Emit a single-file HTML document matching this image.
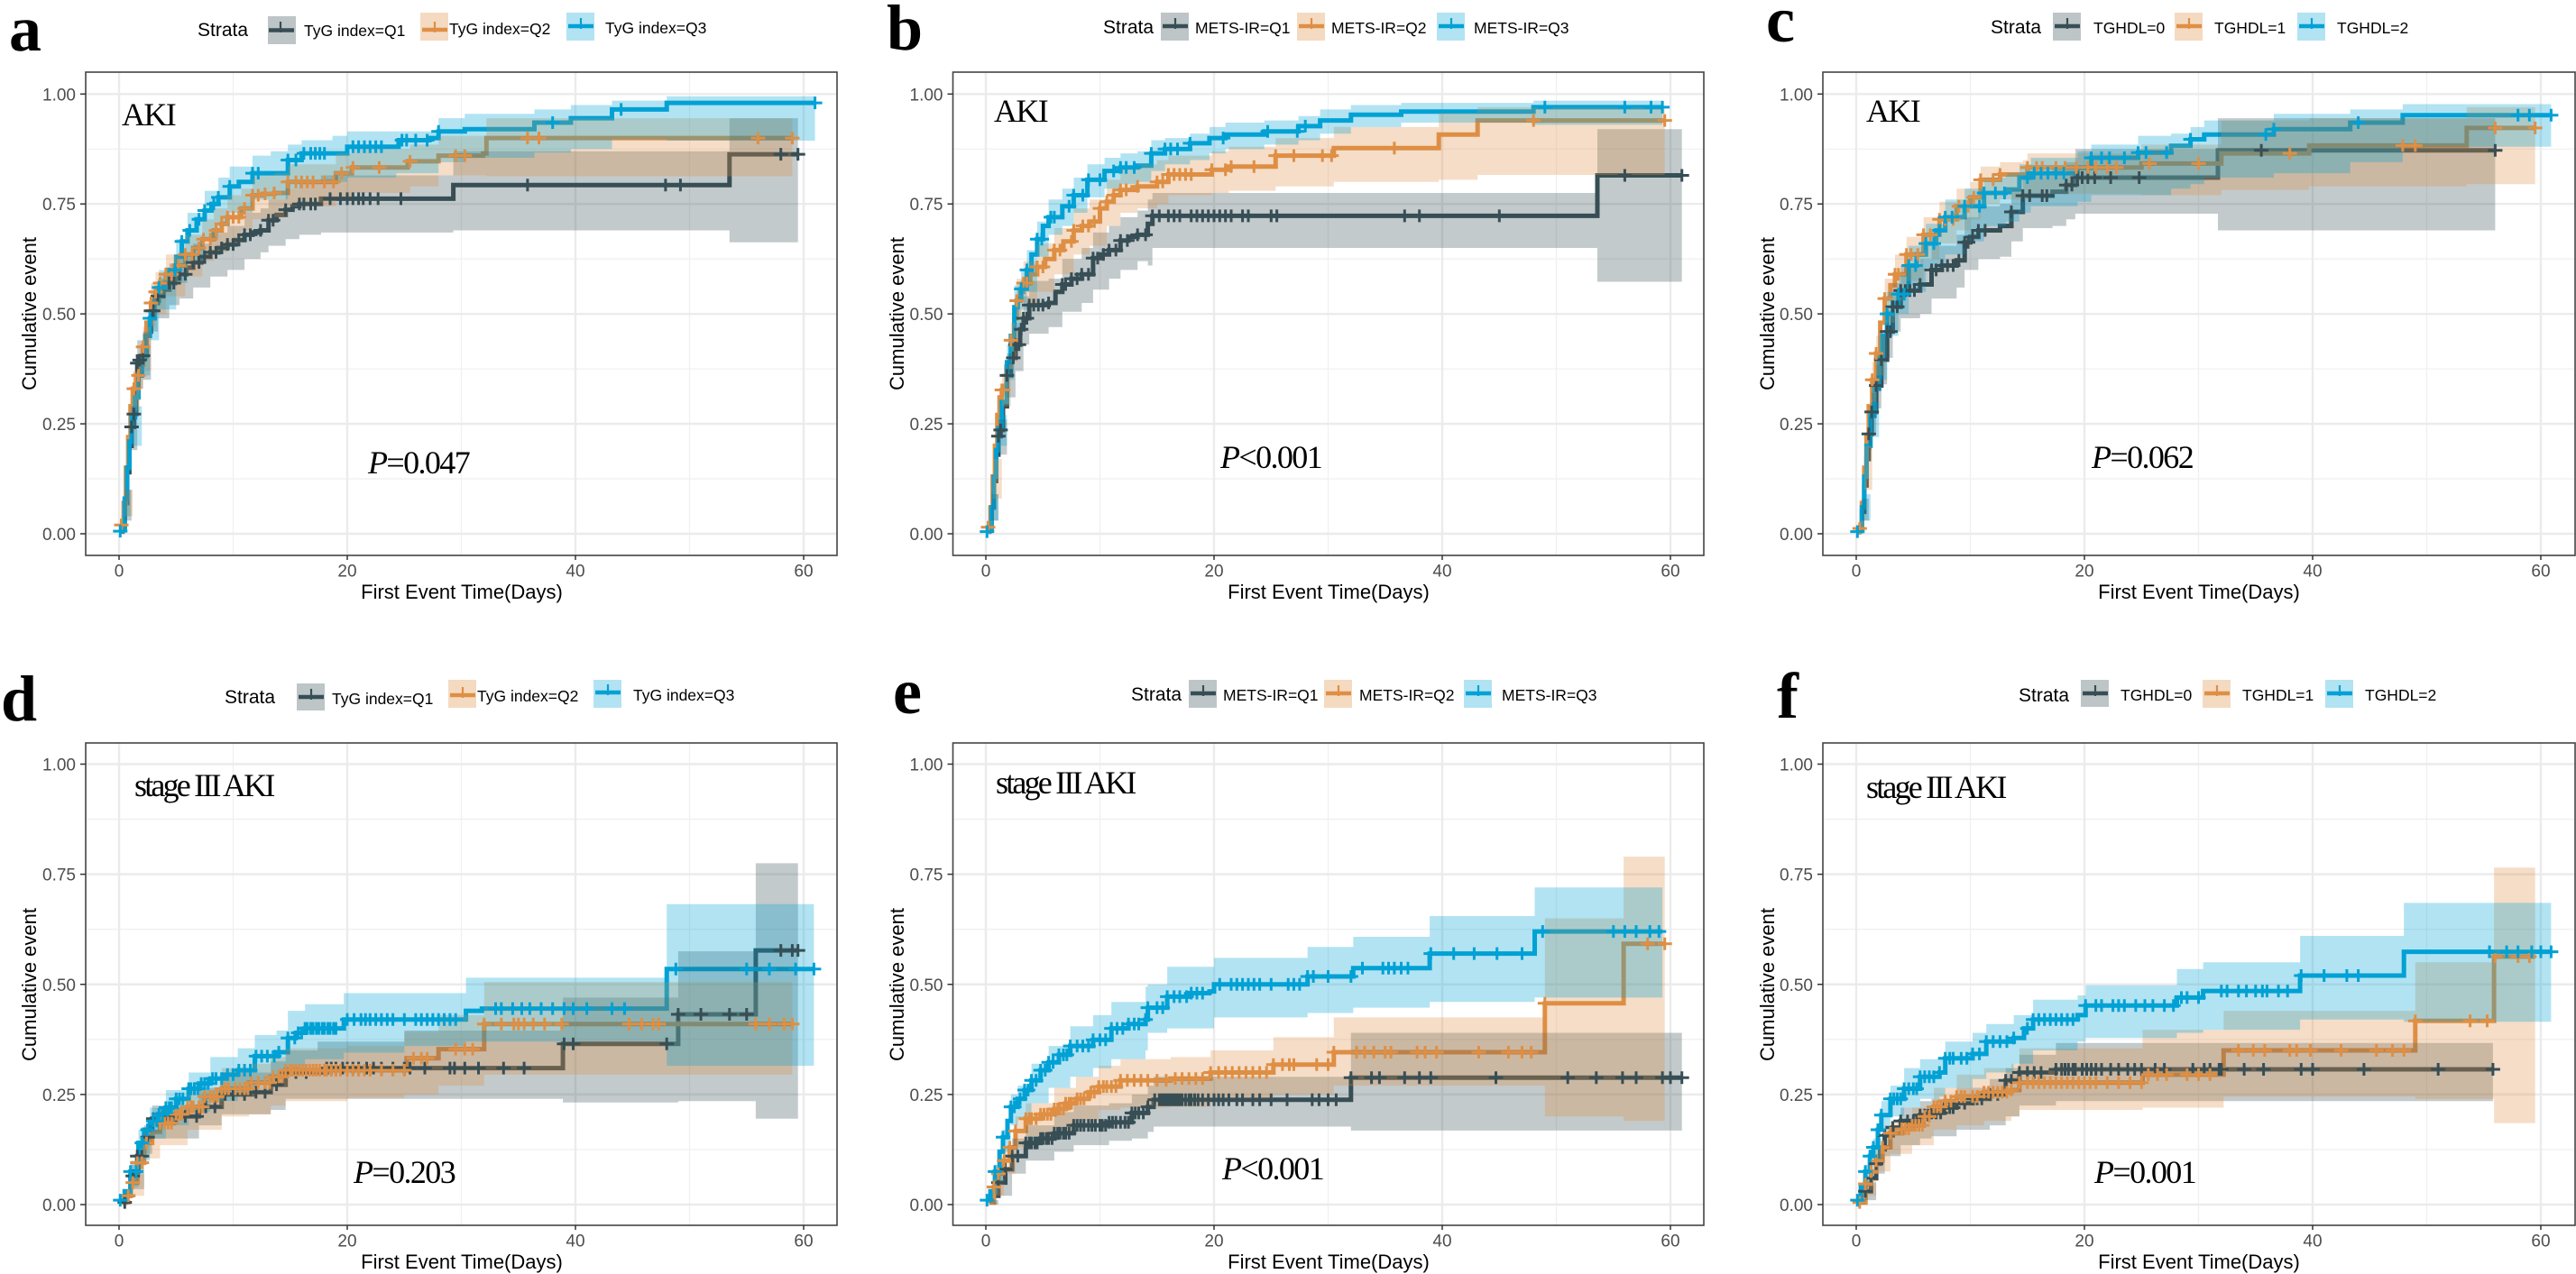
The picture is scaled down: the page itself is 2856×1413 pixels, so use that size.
<!DOCTYPE html>
<html lang="en">
<head>
<meta charset="utf-8">
<title>Cumulative event curves for AKI and stage III AKI</title>
<style>
html,body{margin:0;padding:0;background:#fff;}
svg{display:block;}
.letter{font-family:"Liberation Serif",serif;font-weight:700;font-size:72px;fill:#000;}
.strata{font-family:"Liberation Sans",sans-serif;font-size:21px;fill:#000;}
.leg{font-family:"Liberation Sans",sans-serif;font-size:17.5px;fill:#000;}
.axt{font-family:"Liberation Sans",sans-serif;font-size:22px;fill:#000;}
.tick{font-family:"Liberation Sans",sans-serif;font-size:19px;fill:#4d4d4d;}
.note{font-family:"Liberation Serif",serif;font-size:36px;fill:#000;letter-spacing:-1.6px;}
.note.long{letter-spacing:-2.8px;}
.pv{font-family:"Liberation Serif",serif;font-size:36px;fill:#000;letter-spacing:-1.6px;}
.pv tspan{font-style:italic;}
.k1{fill:#374E55;fill-opacity:.33;}.k2{fill:#DF8F44;fill-opacity:.33;}.k3{fill:#00A1D5;fill-opacity:.3;}
.l1{stroke:#374E55;}.l2{stroke:#DF8F44;}.l3{stroke:#00A1D5;}
.kl{fill:none;stroke-width:4.5;}.kp{fill:none;stroke-width:2.2;}
</style>
</head>
<body>
<svg id="fig" xmlns="http://www.w3.org/2000/svg" width="2856" height="1413" viewBox="0 0 2856 1413">
<rect width="2856" height="1413" fill="#fff"/>
<g id="plots"></g>

<!-- panel a -->
<g>
<text class="letter" x="10" y="56">a</text>
<text class="strata" x="219" y="40">Strata</text>
<rect class="k1" x="297" y="18" width="31" height="31"/><path class="kl l1" d="M298 33.5h28"/><path class="kp l1" d="M311 24v12"/>
<text class="leg" x="337" y="40">TyG index=Q1</text>
<rect class="k2" x="466" y="14" width="31" height="31"/><path class="kl l2" d="M468 33h28"/><path class="kp l2" d="M482 24v12"/>
<text class="leg" x="498" y="38">TyG index=Q2</text>
<rect class="k3" x="628" y="14" width="31" height="31"/><path class="kl l3" d="M630 29h28"/><path class="kp l3" d="M644 20v12"/>
<text class="leg" x="671" y="37">TyG index=Q3</text>
<text class="note" x="135" y="139">AKI</text>
<text class="pv" x="408" y="525"><tspan>P</tspan>=0.047</text>
<text class="axt" x="512" y="664" text-anchor="middle">First Event Time(Days)</text>
<text class="axt" transform="translate(40 348) rotate(-90)" text-anchor="middle">Cumulative event</text>
</g>

<!-- panel b -->
<g>
<text class="letter" x="983" y="55">b</text>
<text class="strata" x="1223" y="37">Strata</text>
<rect class="k1" x="1287" y="14" width="31" height="31"/><path class="kl l1" d="M1289 29h28"/><path class="kp l1" d="M1303 20v12"/>
<text class="leg" x="1325" y="37">METS-IR=Q1</text>
<rect class="k2" x="1438" y="14" width="31" height="31"/><path class="kl l2" d="M1440 29h28"/><path class="kp l2" d="M1454 20v12"/>
<text class="leg" x="1476" y="37">METS-IR=Q2</text>
<rect class="k3" x="1593" y="14" width="31" height="31"/><path class="kl l3" d="M1595 29h28"/><path class="kp l3" d="M1609 20v12"/>
<text class="leg" x="1634" y="37">METS-IR=Q3</text>
<text class="note" x="1102" y="135">AKI</text>
<text class="pv" x="1353" y="519"><tspan>P</tspan>&lt;0.001</text>
<text class="axt" x="1473" y="664" text-anchor="middle">First Event Time(Days)</text>
<text class="axt" transform="translate(1002 348) rotate(-90)" text-anchor="middle">Cumulative event</text>
</g>

<!-- panel c -->
<g>
<text class="letter" x="1958" y="46">c</text>
<text class="strata" x="2207" y="37">Strata</text>
<rect class="k1" x="2276" y="14" width="31" height="31"/><path class="kl l1" d="M2278 29h28"/><path class="kp l1" d="M2292 20v12"/>
<text class="leg" x="2321" y="37">TGHDL=0</text>
<rect class="k2" x="2411" y="14" width="31" height="31"/><path class="kl l2" d="M2413 29h28"/><path class="kp l2" d="M2427 20v12"/>
<text class="leg" x="2455" y="37">TGHDL=1</text>
<rect class="k3" x="2547" y="14" width="31" height="31"/><path class="kl l3" d="M2549 29h28"/><path class="kp l3" d="M2563 20v12"/>
<text class="leg" x="2591" y="37">TGHDL=2</text>
<text class="note" x="2069" y="135">AKI</text>
<text class="pv" x="2319" y="519"><tspan>P</tspan>=0.062</text>
<text class="axt" x="2438" y="664" text-anchor="middle">First Event Time(Days)</text>
<text class="axt" transform="translate(1967 348) rotate(-90)" text-anchor="middle">Cumulative event</text>
</g>

<!-- panel d -->
<g>
<text class="letter" x="1" y="799">d</text>
<text class="strata" x="249" y="780">Strata</text>
<rect class="k1" x="329" y="758" width="31" height="30"/><path class="kl l1" d="M331 773h28"/><path class="kp l1" d="M345 764v12"/>
<text class="leg" x="368" y="781">TyG index=Q1</text>
<rect class="k2" x="497" y="754" width="31" height="31"/><path class="kl l2" d="M499 771h28"/><path class="kp l2" d="M513 762v12"/>
<text class="leg" x="529" y="778">TyG index=Q2</text>
<rect class="k3" x="658" y="754" width="31" height="31"/><path class="kl l3" d="M660 768h28"/><path class="kp l3" d="M674 759v12"/>
<text class="leg" x="702" y="777">TyG index=Q3</text>
<text class="note long" x="149" y="883">stage III AKI</text>
<text class="pv" x="392" y="1312"><tspan>P</tspan>=0.203</text>
<text class="axt" x="512" y="1407" text-anchor="middle">First Event Time(Days)</text>
<text class="axt" transform="translate(40 1092) rotate(-90)" text-anchor="middle">Cumulative event</text>
</g>

<!-- panel e -->
<g>
<text class="letter" x="990" y="791">e</text>
<text class="strata" x="1254" y="777">Strata</text>
<rect class="k1" x="1318" y="754" width="31" height="31"/><path class="kl l1" d="M1320 769h28"/><path class="kp l1" d="M1334 760v12"/>
<text class="leg" x="1356" y="777">METS-IR=Q1</text>
<rect class="k2" x="1468" y="754" width="31" height="31"/><path class="kl l2" d="M1470 769h28"/><path class="kp l2" d="M1484 760v12"/>
<text class="leg" x="1507" y="777">METS-IR=Q2</text>
<rect class="k3" x="1623" y="754" width="31" height="31"/><path class="kl l3" d="M1625 769h28"/><path class="kp l3" d="M1639 760v12"/>
<text class="leg" x="1665" y="777">METS-IR=Q3</text>
<text class="note long" x="1104" y="880">stage III AKI</text>
<text class="pv" x="1355" y="1308"><tspan>P</tspan>&lt;0.001</text>
<text class="axt" x="1473" y="1407" text-anchor="middle">First Event Time(Days)</text>
<text class="axt" transform="translate(1002 1092) rotate(-90)" text-anchor="middle">Cumulative event</text>
</g>

<!-- panel f -->
<g>
<text class="letter" x="1970" y="796">f</text>
<text class="strata" x="2238" y="778">Strata</text>
<rect class="k1" x="2307" y="754" width="31" height="30"/><path class="kl l1" d="M2309 769h28"/><path class="kp l1" d="M2323 760v12"/>
<text class="leg" x="2351" y="777">TGHDL=0</text>
<rect class="k2" x="2442" y="754" width="31" height="31"/><path class="kl l2" d="M2444 769h28"/><path class="kp l2" d="M2458 760v12"/>
<text class="leg" x="2486" y="777">TGHDL=1</text>
<rect class="k3" x="2578" y="754" width="31" height="31"/><path class="kl l3" d="M2580 769h28"/><path class="kp l3" d="M2594 760v12"/>
<text class="leg" x="2622" y="777">TGHDL=2</text>
<text class="note long" x="2069" y="885">stage III AKI</text>
<text class="pv" x="2322" y="1312"><tspan>P</tspan>=0.001</text>
<text class="axt" x="2438" y="1407" text-anchor="middle">First Event Time(Days)</text>
<text class="axt" transform="translate(1967 1092) rotate(-90)" text-anchor="middle">Cumulative event</text>
</g>
</svg>

<script>
// Axis values
const xMajor=[0,20,40,60];
const xMinor=[10,30,50];
const yMajor=[0,0.25,0.5,0.75,1];
const yMinor=[0.125,0.375,0.625,0.875];
const yTickLabels=["0.00","0.25","0.50","0.75","1.00"];
const xTickLabels=["0","20","40","60"];

// Panel a: TyG index, AKI
const aQ1T=[.1,.3,.5,.7,.9,1.1,1.3,1.5,1.6,1.8,2.1,2.4,2.8,3.1,3.4,3.9,4.4,4.9,5.3,5.9,6.5,7.2,8,8.7,9.5,10.2,11,11.7,12.4,13.1,13.8,14.6,15.2,15.8,17.7,29.3,53.5,59.5];
const aQ1Y=[.005,.01,.07,.14,.2,.243,.272,.33,.388,.395,.405,.46,.507,.525,.54,.555,.57,.58,.59,.605,.617,.63,.64,.65,.658,.668,.68,.685,.69,.713,.725,.737,.745,.75,.762,.793,.863,.863];
const aQ1BandT=[.1,.5,1.1,1.6,2.1,2.8,3.4,4.4,5.3,6.5,8,9.5,11,12.4,13.1,14.6,15.8,17.7,29.3,53.5,59.5];
const aQ1Lo=[0,.03,.19,.33,.35,.46,.49,.52,.535,.56,.585,.60,.625,.64,.655,.67,.68,.685,.69,.663,.663];
const aQ1Hi=[.01,.1,.29,.44,.46,.55,.58,.615,.635,.66,.685,.70,.73,.74,.76,.785,.80,.815,.87,.945,.945];
const aQ1C=[1.1,1.3,1.6,1.8,2.1,2.8,3,3.4,4.4,4.8,5.3,5.8,6.5,7,7.5,8,8.5,9,9.5,10,10.5,11,11.5,12.4,13.1,13.5,14.6,15.8,16.2,16.8,17.2,18.5,19.4,20,20.5,21,21.4,22,22.7,24.7,35.8,47.9,49.2,58,59.5];
const aQ2T=[.2,.4,.6,.8,1,1.2,1.5,1.8,2.1,2.4,2.8,3.2,3.6,4.1,4.9,5.8,6.5,7.3,8.3,9,9.5,10.7,11.7,12.6,13.6,14.8,18,19,20.4,25.3,28,31.9,32.2,59];
const aQ2Y=[.02,.07,.15,.22,.29,.33,.36,.385,.425,.48,.525,.55,.57,.59,.61,.635,.65,.67,.69,.705,.72,.74,.77,.773,.775,.80,.80,.82,.833,.847,.86,.865,.90,.90];
const aQ2BandT=[.1,.5,1.2,1.8,2.1,2.8,3.2,4.1,5.8,7.3,8.3,9.5,10.7,11.7,13.6,14.8,19,20.4,25.5,28,32.2,59];
const aQ2Lo=[0,.04,.28,.33,.37,.47,.50,.54,.585,.62,.64,.66,.69,.715,.72,.745,.765,.775,.79,.815,.813,.813];
const aQ2Hi=[.02,.1,.37,.43,.47,.57,.595,.635,.68,.715,.74,.77,.785,.815,.82,.84,.865,.875,.885,.905,.945,.945];
const aQ2C=[.2,1.3,1.7,2.1,2.8,3.2,3.6,4.1,4.6,5.2,5.8,6.4,7,7.4,8,8.5,9,9.5,10,10.5,11,11.7,12.2,12.8,13.6,14.8,15.5,16,16.5,17,18,18.8,19.5,20.5,22.8,25.5,29.5,30.3,35.8,36.8,56,59];
const aQ3T=[.1,.3,.5,.7,.9,1.1,1.4,1.7,2,2.3,2.7,3.1,3.5,4.2,5,5.5,6,6.8,7.5,8.1,8.7,9.7,10.5,11.7,13.3,14.8,16,18.7,20,24.5,27.2,28,30.3,36.4,39.6,43.2,48,61];
const aQ3Y=[.006,.01,.08,.15,.21,.265,.31,.36,.40,.45,.49,.53,.56,.60,.63,.665,.69,.715,.735,.75,.765,.79,.80,.82,.82,.85,.865,.865,.88,.895,.90,.915,.92,.935,.945,.965,.98,.98];
const aQ3BandT=[.1,.5,1,2,2.7,3.5,5,6,7.5,8.7,9.7,11.7,13.3,14.8,16,18.7,20,24.3,28,30.3,36.4,39.6,43.2,48,61];
const aQ3Lo=[0,.04,.2,.36,.44,.51,.57,.62,.67,.70,.73,.76,.76,.785,.80,.80,.81,.82,.845,.855,.867,.875,.897,.894,.894];
const aQ3Hi=[.02,.1,.29,.43,.53,.60,.67,.73,.78,.81,.835,.86,.87,.885,.895,.905,.915,.915,.945,.955,.965,.975,.985,.995,.995];
const aQ3C=[.1,2.7,3.5,4.9,5.5,6.2,7,7.5,8.3,8.7,9.7,11.7,12.2,14.8,15.5,16.2,16.8,17.2,17.6,18,20.5,21,21.5,22,22.5,23,24.8,25.2,26,27,28,38,44,61];

// Panel b: METS-IR, AKI
const bQ1T=[.1,.3,.5,.7,.9,1.1,1.3,1.5,1.85,2.2,2.6,3,3.3,3.8,5.5,6.1,6.7,7.5,8.4,9.4,10,10.8,11.8,12.5,13.3,14.2,14.6,53.6,61];
const bQ1Y=[.005,.01,.06,.12,.18,.222,.236,.29,.36,.40,.43,.465,.49,.52,.525,.55,.567,.58,.59,.627,.635,.645,.667,.675,.68,.705,.723,.815,.815];
const bQ1BandT=[.1,.5,1.1,1.85,2.6,3.3,3.8,5.5,6.7,8.4,9.4,10.8,11.8,13.3,14.2,14.6,53.6,61];
const bQ1Lo=[0,.03,.18,.31,.37,.43,.455,.47,.505,.525,.555,.58,.60,.62,.61,.65,.573,.573];
const bQ1Hi=[.01,.09,.26,.41,.48,.54,.575,.58,.625,.65,.685,.70,.72,.735,.76,.775,.92,.92];
const bQ1C=[1.1,1.3,1.85,2.4,2.6,2.9,3.1,3.3,3.6,3.8,4.2,4.6,5,5.5,6.7,7,7.5,8,8.4,9,9.4,9.8,10.3,10.8,11.4,11.8,12.4,13.3,14,14.6,15.2,16,16.5,17,18,18.5,19,19.5,20,20.5,21,21.5,22.5,23,25,25.5,36.7,38,45,56,61];
const bQ2T=[.2,.4,.6,.8,1,1.2,1.4,1.8,2.2,2.5,2.7,3,3.3,3.9,4.5,5.2,6,6.8,7.7,8.4,9.1,10,10.6,11.2,11.8,13.3,15,16,19,19.8,21.3,24.4,25.4,30.3,30.5,39.7,43.1,59.5];
const bQ2Y=[.015,.06,.13,.2,.27,.31,.327,.38,.44,.49,.53,.55,.57,.59,.607,.625,.645,.665,.69,.70,.71,.74,.755,.77,.782,.79,.80,.817,.817,.828,.835,.835,.86,.86,.877,.908,.94,.94];
const bQ2BandT=[.2,.6,1.4,2.2,2.7,3.3,4.5,6,7.7,9.1,10.6,11.8,13.3,15,16,19.8,21.3,25.4,30.5,39.7,43.1,59.5];
const bQ2Lo=[0,.08,.29,.39,.48,.52,.55,.59,.635,.655,.70,.73,.74,.75,.77,.775,.78,.79,.80,.805,.816,.816];
const bQ2Hi=[.03,.17,.365,.48,.58,.62,.66,.695,.74,.76,.805,.83,.84,.85,.86,.87,.88,.90,.925,.957,.97,.97];
const bQ2C=[.2,1.4,1.5,2.2,2.7,3.3,3.6,4.5,5,6,6.5,7.5,7.7,8.5,9,9.5,10,10.6,11.2,11.8,12.3,13.3,15,15.5,16,16.5,17,17.5,18,19.8,21,21.5,23.5,25.4,27,29.5,30.3,35.8,48,59.5];
const bQ3T=[.1,.3,.5,.7,.9,1.1,1.4,1.85,2.2,2.5,2.8,3.1,3.6,4,4.5,5,5.5,6.7,7.7,8.9,10.4,11.8,13.3,14.5,15.7,17.9,19.6,21,24.4,27.4,29.3,32,36.4,48,59.3];
const bQ3Y=[.005,.01,.06,.13,.19,.24,.30,.39,.45,.515,.535,.557,.60,.635,.67,.70,.72,.745,.77,.805,.825,.833,.837,.865,.875,.888,.90,.908,.915,.927,.94,.953,.96,.97,.97];
const bQ3BandT=[.1,.5,1.1,1.85,2.5,3.1,3.6,4.5,5.5,6.7,7.7,8.9,10.4,11.8,13.3,14.5,15.7,17.9,19.6,21,24.4,27.4,29.3,32,36.4,48,59.3];
const bQ3Lo=[0,.03,.2,.35,.46,.51,.55,.63,.68,.70,.73,.765,.785,.795,.80,.825,.84,.85,.865,.875,.885,.895,.91,.925,.935,.93,.93];
const bQ3Hi=[.02,.09,.27,.43,.565,.60,.645,.71,.76,.785,.81,.84,.855,.865,.87,.895,.90,.91,.925,.935,.94,.95,.965,.975,.98,.985,.985];
const bQ3C=[.1,3.1,3.6,4.5,4.9,5.7,6,7.3,7.7,8.5,9,10,11.2,11.8,12.3,13,14.5,15.7,16.2,16.8,17.9,20.8,24.7,27.3,28,49,56,58.3,59.3];

// Panel c: TGHDL, AKI
const cQ1T=[.1,.3,.5,.7,.9,1.1,1.35,1.75,2.2,2.7,3.2,3.9,5.6,6.6,7.5,8.8,9.5,10,10.7,12.6,13.6,14.6,17.2,18.4,19.2,31.7,56];
const cQ1Y=[.005,.01,.05,.11,.17,.227,.277,.337,.396,.46,.516,.553,.567,.60,.61,.622,.663,.675,.69,.70,.732,.769,.778,.793,.81,.872,.872];
const cQ1BandT=[.1,.5,1.1,1.35,1.75,2.2,2.7,3.2,3.9,5.6,6.6,8.8,9.5,10.7,12.6,13.6,14.6,17.2,18.4,19.2,31.7,56];
const cQ1Lo=[0,.03,.19,.23,.285,.34,.40,.46,.49,.50,.535,.56,.60,.625,.63,.665,.695,.70,.715,.728,.69,.69];
const cQ1Hi=[.01,.08,.265,.32,.385,.45,.51,.57,.61,.625,.655,.68,.72,.745,.75,.785,.815,.83,.845,.875,.945,.945];
const cQ1C=[1.1,1.35,1.75,2.2,2.7,3,3.2,3.6,3.9,4.3,4.7,5.1,5.6,6.6,7,7.5,8,8.5,9,9.5,9.8,10.2,10.7,11.3,13.6,14.6,15.2,16.3,16.7,18.4,18.9,19.4,19.8,20.3,20.9,22.3,24.8,35.5,56];
const cQ2T=[.3,.5,.7,.9,1.1,1.4,1.75,2.1,2.5,3,3.4,4.4,5.9,7.3,8.8,10,10.9,12.6,15,24.7,25,32,39.7,53.5,59.5];
const cQ2Y=[.012,.07,.15,.22,.29,.35,.41,.48,.535,.565,.59,.635,.68,.715,.745,.765,.805,.817,.833,.833,.842,.865,.883,.923,.923];
const cQ2BandT=[.3,.7,1.4,1.75,2.5,3.4,4.4,5.9,7.3,8.8,10,10.9,12.6,14.6,15,25,32,39.7,53.5,59.5];
const cQ2Lo=[0,.1,.30,.36,.48,.53,.575,.625,.66,.69,.715,.75,.76,.76,.773,.77,.782,.79,.795,.795];
const cQ2Hi=[.03,.2,.39,.45,.58,.635,.675,.72,.755,.785,.80,.835,.845,.85,.865,.885,.94,.945,.97,.97];
const cQ2C=[.3,1.4,1.75,2.5,3.4,3.7,4.4,4.8,5.4,5.9,6.5,7.3,7.8,8.5,9,9.8,10.3,10.9,12,12.6,15,15.8,16.3,17.5,18.3,19.3,20.3,21,22,22.8,25.7,30,38,47.9,49,56,59.5];
const cQ3T=[.1,.3,.5,.7,.9,1.25,1.6,2,2.3,2.7,3.2,3.7,4.6,5.3,6.1,7,7.8,9.5,11.2,13.1,14.3,15.3,18.4,19.4,20.6,24.7,27.6,29.3,30.5,36.6,43.3,47.9,60.9];
const cQ3Y=[.005,.01,.06,.13,.2,.268,.33,.40,.45,.50,.525,.545,.61,.635,.66,.69,.72,.745,.775,.783,.81,.82,.82,.832,.855,.867,.882,.897,.908,.92,.935,.952,.952];
const cQ3BandT=[.1,.5,1.25,2,2.7,3.7,4.6,6.1,7.8,9.5,11.2,13.1,14.3,15.3,19.4,20.6,24.7,27.6,29.3,30.5,36.6,43.3,47.9,60.9];
const cQ3Lo=[0,.03,.22,.35,.45,.50,.55,.605,.635,.665,.70,.71,.73,.745,.755,.77,.77,.785,.795,.81,.82,.845,.88,.88];
const cQ3Hi=[.02,.09,.30,.45,.55,.59,.655,.705,.76,.785,.81,.82,.84,.855,.87,.885,.905,.91,.925,.94,.955,.965,.977,.977];
const cQ3C=[.1,2.7,3.7,4.2,4.6,5.2,6.1,6.8,7.3,7.8,8.4,9.5,10.8,11.2,12.2,13,15,15.6,16.2,16.8,17.5,18.2,20.6,21.5,22.2,23.5,24.7,25.4,27.2,29.3,35.9,36.6,44,58,59,60.9];

// Panel d: TyG index, stage III AKI
const dQ1T=[.3,.6,1,1.6,2.2,2.9,4.5,7,9,11.9,13.3,14.6,18.2,38.9,49,55.8,59.5];
const dQ1Y=[.005,.02,.065,.11,.153,.195,.20,.222,.25,.255,.272,.30,.31,.365,.432,.577,.577];
const dQ1BandT=[.3,1,2.2,2.9,7,9,11.9,13.3,14.6,17.4,25,38.9,49,55.8,59.5];
const dQ1Lo=[0,.035,.115,.15,.18,.205,.205,.215,.24,.24,.24,.232,.235,.195,.195];
const dQ1Hi=[.01,.09,.18,.225,.265,.30,.30,.325,.35,.37,.395,.47,.575,.775,.775];
const dQ1C=[.5,.8,1.2,1.6,2,2.5,3,3.5,4,5,5.8,6.8,7.6,8.4,9.3,10,11,12,12.8,13.8,14.6,15.5,16.4,18.2,18.6,19,19.6,20,20.5,21,21.7,22.3,23,24,25,25.5,26.8,29,29.4,30.3,31.5,33.7,35.5,39,39.8,48,49,51,53.5,55,58,59,59.5];
const dQ2T=[.3,.6,1,1.6,2.2,2.9,3.6,4.8,6,7.5,9,11.4,13.3,14.6,25,25.2,27.9,28,31.8,32,59];
const dQ2Y=[.005,.02,.05,.095,.14,.165,.185,.205,.222,.245,.263,.277,.29,.305,.305,.332,.332,.353,.353,.41,.41];
const dQ2BandT=[.3,1,2.2,3.6,6,9,11.4,13.3,14.6,20,25,28,32,59];
const dQ2Lo=[0,.02,.105,.135,.17,.20,.205,.225,.235,.242,.25,.27,.295,.295];
const dQ2Hi=[.01,.07,.165,.22,.26,.31,.32,.335,.355,.36,.392,.43,.505,.505];
const dQ2C=[.8,1.2,1.6,2,2.4,3.6,4,4.3,4.6,5,5.3,5.5,6,6.3,6.5,7,7.3,7.5,8,8.3,8.6,9,9.3,9.6,10.2,10.6,11,11.3,11.6,12.2,12.8,13.2,13.5,14,14.3,14.6,15,15.2,15.5,15.8,16.1,16.4,16.7,17,17.3,17.6,18,18.2,18.6,19,19.4,20,20.5,21,21.5,22,23,24,25,25.8,26.5,27,29.5,30.3,31,32,33.5,34.6,35,35.5,36.3,37.3,38.8,44.7,45.8,46.8,47.3,55.8,57,58.3,59];
const dQ3T=[.1,.5,1,1.7,2.2,2.7,3.4,4.1,5,6.1,7,8,9.2,10.4,11.9,13.8,14.8,15.5,16.3,19.4,19.7,30.3,30.4,31.8,47.8,48,60.9];
const dQ3Y=[.01,.03,.075,.14,.17,.19,.205,.22,.24,.263,.275,.286,.295,.305,.337,.346,.378,.39,.40,.40,.42,.42,.44,.445,.445,.535,.535];
const dQ3BandT=[.1,1,1.7,2.7,4.1,6.1,8,10.4,11.9,13.8,14.8,16.3,19.7,25,30.4,48,60.9];
const dQ3Lo=[.01,.04,.10,.15,.18,.21,.235,.25,.275,.285,.31,.33,.345,.36,.37,.315,.315];
const dQ3Hi=[.01,.10,.17,.22,.26,.30,.335,.355,.385,.395,.44,.455,.48,.48,.515,.682,.682];
const dQ3C=[.1,1,1.5,2,2.5,3,3.3,3.5,3.8,4.1,4.4,4.6,5,5.3,5.6,6.1,6.3,6.6,6.9,7.2,7.5,7.8,8.2,8.5,9,9.5,10,10.5,11,11.5,12,12.5,13,13.6,14,14.8,15.4,15.7,16,16.3,16.5,16.8,17,17.3,17.5,17.8,18,18.3,18.5,18.8,19,20,20.6,21.2,21.6,22,22.5,23,23.5,24,25,26,26.5,27,27.5,28,28.5,29,29.5,33,33.5,34.5,35.3,36,37,38,39,39.8,41,43.2,44.3,48.8,55,57,59.3,60.9];

// Panel e: METS-IR, stage III AKI
const eQ1T=[.3,.7,1.1,1.7,2.3,3.5,4.8,6,7.7,10.8,12.8,14.2,14.7,32,61];
const eQ1Y=[.005,.02,.05,.08,.11,.14,.15,.162,.18,.187,.208,.222,.238,.288,.288];
const eQ1BandT=[.3,1.1,2.3,3.5,6,7.7,10.8,12.8,14.2,14.7,32,61];
const eQ1Lo=[0,.02,.07,.10,.12,.135,.145,.15,.165,.177,.168,.168];
const eQ1Hi=[.01,.08,.15,.18,.21,.225,.23,.25,.27,.29,.39,.39];
const eQ1C=[1.1,1.7,2.3,2.8,3.5,3.8,4,4.3,4.5,4.8,5,5.3,5.5,5.8,6,6.3,6.5,6.8,7,7.3,7.7,8,8.3,8.6,9,9.3,9.6,10,10.2,10.5,10.8,11.1,11.4,11.8,12.2,12.5,12.8,13.1,13.4,13.8,14.2,14.8,15.2,15.4,15.6,15.8,16,16.2,16.4,16.6,16.8,17,17.2,17.5,17.8,18,18.3,18.6,19,19.5,20,20.4,20.8,21.3,22,22.5,23.4,24,25,26.4,28.6,29.2,30,30.7,32,33.8,34.5,36.7,38,39,44.7,51,53.5,55.8,57,59.3,60,61];
const eQ2T=[.3,.7,1.1,1.6,2.1,2.6,3.5,4.8,6,7,7.9,9,9.9,11.8,16.2,19,19.7,25.2,30.3,30.5,49,55.9,59.5];
const eQ2Y=[.005,.04,.07,.10,.13,.167,.195,.205,.217,.23,.24,.255,.268,.282,.286,.286,.30,.318,.318,.346,.457,.592,.592];
const eQ2BandT=[.3,.7,1.6,2.6,3.5,6,7.9,9.9,11.8,16.2,19.7,25.2,30.5,49,55.9,59.5];
const eQ2Lo=[0,.02,.07,.13,.155,.17,.19,.215,.22,.222,.24,.25,.27,.20,.19,.19];
const eQ2Hi=[.01,.06,.13,.20,.23,.265,.29,.315,.33,.335,.35,.38,.425,.65,.79,.79];
const eQ2C=[.7,1.1,1.6,2.1,2.6,3.5,3.8,4,4.4,4.8,5.1,5.4,5.7,6,6.3,6.5,6.8,7,7.3,7.5,8,8.3,8.6,9.2,9.5,9.9,10.3,10.6,11,11.4,11.8,12.4,13,13.6,14.2,15,15.8,16.6,17.2,17.8,18.4,19,19.7,20.4,21,21.6,22.2,22.8,23.4,24,24.6,25.2,26,26.6,27,29,30,30.5,32.5,33.2,34,35,35.5,37.8,38.5,39.5,43.2,45.8,47,47.8,49,58,59.5];
const eQ3T=[.1,.4,.8,1.2,1.5,1.9,2.2,2.8,3.4,4,4.8,5.5,6.4,7.4,9.4,11,12.5,14,14.2,15.9,17.8,19.6,20,28,28.2,32,32.2,38.8,38.9,48,48.1,59.3];
const eQ3Y=[.01,.03,.075,.12,.153,.19,.222,.24,.26,.282,.305,.323,.34,.36,.374,.40,.41,.42,.447,.472,.48,.484,.50,.50,.518,.518,.537,.537,.57,.57,.62,.62];
const eQ3BandT=[.1,.8,1.5,2.2,2.8,4,5.5,7.4,9.4,11,14,14.2,15.9,20,28.2,32.2,38.9,48.1,59.3];
const eQ3Lo=[.01,.05,.12,.18,.195,.23,.265,.29,.31,.33,.35,.39,.40,.425,.435,.447,.46,.47,.47];
const eQ3Hi=[.01,.09,.17,.25,.27,.32,.36,.405,.43,.46,.495,.50,.54,.56,.585,.608,.655,.72,.72];
const eQ3C=[.1,.8,1.5,2.2,2.5,3,3.4,3.7,4,4.4,4.8,5.2,5.5,5.9,6.4,6.8,7.1,7.4,8,8.5,9,9.4,10,10.5,11,11.5,12,12.5,13,13.4,14,14.2,15,15.5,15.9,16.5,17,17.6,18,18.5,19,20.5,21.5,22,22.5,23,23.5,24,25,26.5,27,27.5,28.2,28.7,30,32,33,34.8,35.3,35.8,36.4,37,39,41,42.8,44.8,47,48.8,55,56,57,58.2,59];

// Panel f: TGHDL, stage III AKI
const fQ1T=[.4,.8,1.3,1.75,2.1,2.5,3.2,3.9,5.6,6.6,7.7,8.8,10.2,11.7,13.1,14.3,17.5,55.8];
const fQ1Y=[.005,.03,.06,.093,.125,.157,.175,.19,.203,.208,.22,.23,.24,.25,.282,.30,.307,.307];
const fQ1BandT=[.4,.8,1.75,2.5,3.9,5.6,6.6,8.8,11.7,13.1,14.3,17.5,55.8];
const fQ1Lo=[0,.01,.07,.11,.135,.15,.155,.17,.18,.20,.225,.235,.235];
const fQ1Hi=[.01,.05,.115,.18,.22,.235,.24,.265,.285,.31,.34,.367,.367];
const fQ1C=[.8,1.3,1.75,2.5,3.2,3.9,4.5,5,5.3,5.6,6,6.3,6.6,7,7.4,7.7,8.2,8.5,8.8,9.5,10.2,10.6,11,11.7,12.4,13.1,13.6,14.3,15,15.6,16.2,17.5,18,18.3,18.6,19,19.2,19.8,20.2,20.6,21,21.5,22.3,23,23.8,24.4,25,26.2,27,29.5,30.5,31,31.8,32,34,35.7,39,40,44.5,51,55.8];
const fQ2T=[.3,.8,1.3,1.75,2.3,3,4,4.9,5.9,6.8,7.8,8.8,11.2,13.6,14.3,25,25.1,32,32.2,49,55.9,59.5];
const fQ2Y=[.005,.047,.075,.10,.13,.162,.172,.18,.20,.222,.235,.245,.255,.26,.277,.277,.295,.295,.35,.417,.563,.563];
const fQ2BandT=[.3,.8,1.75,3,4.9,6.8,8.8,11.2,13.6,14.3,25.1,32.2,49,55.9,59.5];
const fQ2Lo=[0,.02,.075,.115,.135,.17,.18,.19,.20,.215,.22,.245,.24,.185,.185];
const fQ2Hi=[.01,.06,.125,.19,.22,.265,.295,.31,.32,.355,.397,.44,.55,.765,.765];
const fQ2C=[.3,.8,1.3,1.75,2.3,3,4,4.3,4.6,4.9,5.2,5.5,5.8,6,6.4,6.8,7.1,7.4,7.8,8.3,8.8,9.2,9.5,10.2,10.6,11.2,11.6,12,12.4,12.8,13.2,13.6,14.3,15,15.5,16,16.5,17,17.5,18,18.5,19,19.5,20,20.5,21,22,23,24,25,25.6,26.4,27.2,29,30,31,33.5,34.8,35.8,38,38.6,39.8,42.5,45.6,47,48,49,53.8,55.3,56,58,59];
const fQ3T=[.1,.4,.8,1.2,1.5,1.9,2.2,3,4.2,5.6,7.3,7.8,10.2,11.4,13.8,14.7,15.5,19.4,20.1,27.6,28.1,30.3,30.4,38.8,38.9,47.9,48,60.9];
const fQ3Y=[.01,.04,.075,.11,.13,.17,.203,.24,.263,.29,.30,.332,.342,.37,.378,.40,.42,.43,.452,.452,.47,.47,.485,.485,.52,.52,.574,.574];
const fQ3BandT=[.1,.8,1.5,2.2,3,4.2,5.6,7.3,7.8,10.2,11.4,13.8,15.5,19.4,20.1,28.1,30.4,38.9,48,60.9];
const fQ3Lo=[.01,.05,.09,.17,.20,.22,.24,.245,.265,.285,.30,.32,.35,.37,.378,.39,.397,.42,.415,.415];
const fQ3Hi=[.01,.09,.15,.235,.27,.31,.33,.335,.37,.39,.41,.43,.465,.475,.498,.535,.55,.61,.685,.685];
const fQ3C=[.1,.8,1.2,1.5,1.9,2.2,3,3.3,3.6,3.9,4.2,4.6,5,5.3,5.6,6,6.4,6.8,7.3,7.8,8.2,8.5,9.2,9.7,10.2,10.8,11.4,12,12.6,13.2,13.8,15,15.5,16,16.5,17,17.5,18,18.5,19,20.1,21,21.5,22.5,23,23.5,24.5,25.3,26,27,27.8,28.5,29,30,32,32.5,33.5,34.2,35,35.6,36,37,37.8,39,41,43,44,55.5,57,58,59.2,60,60.9];

const fills=["#374E55","#DF8F44","#00A1D5"];
const svgNS="http://www.w3.org/2000/svg";
const plotLayer=document.getElementById("plots");

function mk(tag,parent){const el=document.createElementNS(svgNS,tag);parent.appendChild(el);return el;}
function stepAt(T,Y,t){let v=Y[0];for(let i=0;i<T.length;i++){if(T[i]<=t)v=Y[i];else break;}return v;}
function stepPath(T,Y,sx,sy){let d="M"+sx(T[0]).toFixed(1)+" "+sy(Y[0]).toFixed(1);for(let i=1;i<T.length;i++){d+="H"+sx(T[i]).toFixed(1)+"V"+sy(Y[i]).toFixed(1);}return d;}
function bandPath(T,Lo,Hi,sx,sy){
  const n=T.length-1;
  let d=stepPath(T,Hi,sx,sy);
  d+="V"+sy(Lo[n]).toFixed(1);
  for(let i=n-1;i>=0;i--){d+="H"+sx(T[i+1]).toFixed(1)+"V"+sy(Lo[i]).toFixed(1)+"H"+sx(T[i]).toFixed(1);}
  return d+"Z";
}

function drawPanel(id,g,series){
  const sx=t=>g.x0+(g.x60-g.x0)*t/60;
  const sy=v=>g.y0+(g.y1-g.y0)*v;
  const root=mk("g",plotLayer);
  
  
  xMinor.forEach(v=>{
    const l=mk("line",root);
    l.setAttribute("x1",sx(v));l.setAttribute("x2",sx(v));l.setAttribute("y1",g.t);l.setAttribute("y2",g.b);
    l.setAttribute("stroke","#f0f0f0");l.setAttribute("stroke-width","1.3");
    
    
  });
  yMinor.forEach(v=>{
    const l=mk("line",root);
    l.setAttribute("x1",g.l);l.setAttribute("x2",g.r);l.setAttribute("y1",sy(v));l.setAttribute("y2",sy(v));
    l.setAttribute("stroke","#f0f0f0");l.setAttribute("stroke-width","1.3");
    
    
  });
  xMajor.forEach(v=>{
    const l=mk("line",root);
    l.setAttribute("x1",sx(v));l.setAttribute("x2",sx(v));l.setAttribute("y1",g.t);l.setAttribute("y2",g.b);
    l.setAttribute("stroke","#ebebeb");l.setAttribute("stroke-width","2.4");
    
    
  });
  yMajor.forEach(v=>{
    const l=mk("line",root);
    l.setAttribute("x1",g.l);l.setAttribute("x2",g.r);l.setAttribute("y1",sy(v));l.setAttribute("y2",sy(v));
    l.setAttribute("stroke","#ebebeb");l.setAttribute("stroke-width","2.4");
    
    
  });
  series.forEach((s,i)=>{
    const p=mk("path",root);
    p.setAttribute("d",stepPath(s.t,s.y,sx,sy));
    p.setAttribute("fill","none");p.setAttribute("stroke",fills[i]);p.setAttribute("stroke-width","5");
    
    
  });
  series.forEach((s,i)=>{
    const p=mk("path",root);
    p.setAttribute("d",bandPath(s.bt,s.lo,s.hi,sx,sy));
    p.setAttribute("fill",fills[i]);p.setAttribute("fill-opacity","0.3");
    
    
  });
  series.forEach((s,i)=>{
    s.c.forEach(c=>{
      const cx=sx(c),cy=sy(stepAt(s.t,s.y,c));
      const m=mk("path",root);
      m.setAttribute("d","M"+(cx-8).toFixed(1)+" "+cy.toFixed(1)+"h16M"+cx.toFixed(1)+" "+(cy-7).toFixed(1)+"v14");
      m.setAttribute("fill","none");m.setAttribute("stroke",fills[i]);m.setAttribute("stroke-width","3");
      
      
    });
  });
  const frame=mk("rect",root);
  frame.setAttribute("x",g.l);frame.setAttribute("y",g.t);frame.setAttribute("width",g.r-g.l);frame.setAttribute("height",g.b-g.t);
  frame.setAttribute("fill","none");frame.setAttribute("stroke","#444");frame.setAttribute("stroke-width","1.6");
  
  
  xMajor.forEach((v,i)=>{
    const l=mk("line",root);
    l.setAttribute("x1",sx(v));l.setAttribute("x2",sx(v));l.setAttribute("y1",g.b);l.setAttribute("y2",g.b+5);
    l.setAttribute("stroke","#333");l.setAttribute("stroke-width","1.5");
    
    
    const t=mk("text",root);
    t.setAttribute("class","tick");t.setAttribute("x",sx(v));t.setAttribute("y",g.b+23.5);t.setAttribute("text-anchor","middle");
    t.textContent=xTickLabels[i];
    
    
  });
  yMajor.forEach((v,i)=>{
    const l=mk("line",root);
    l.setAttribute("x1",g.l-6);l.setAttribute("x2",g.l);l.setAttribute("y1",sy(v));l.setAttribute("y2",sy(v));
    l.setAttribute("stroke","#333");l.setAttribute("stroke-width","1.5");
    
    
    const t=mk("text",root);
    t.setAttribute("class","tick");t.setAttribute("x",g.l-11);t.setAttribute("y",sy(v)+7);t.setAttribute("text-anchor","end");
    t.textContent=yTickLabels[i];
    
    
  });
}

const rowTop={y0:592,y1:104.3,t:80,b:616};
const rowBottom={y0:1336,y1:847.5,t:824,b:1359};
const colA={x0:132,x60:891,l:95,r:928};
const colB={x0:1093,x60:1852,l:1056.5,r:1889};
const colC={x0:2058,x60:2817,l:2021,r:2855};

drawPanel("a",Object.assign({},colA,rowTop),[
 {t:aQ1T,y:aQ1Y,bt:aQ1BandT,lo:aQ1Lo,hi:aQ1Hi,c:aQ1C},
 {t:aQ2T,y:aQ2Y,bt:aQ2BandT,lo:aQ2Lo,hi:aQ2Hi,c:aQ2C},
 {t:aQ3T,y:aQ3Y,bt:aQ3BandT,lo:aQ3Lo,hi:aQ3Hi,c:aQ3C}]);
drawPanel("b",Object.assign({},colB,rowTop),[
 {t:bQ1T,y:bQ1Y,bt:bQ1BandT,lo:bQ1Lo,hi:bQ1Hi,c:bQ1C},
 {t:bQ2T,y:bQ2Y,bt:bQ2BandT,lo:bQ2Lo,hi:bQ2Hi,c:bQ2C},
 {t:bQ3T,y:bQ3Y,bt:bQ3BandT,lo:bQ3Lo,hi:bQ3Hi,c:bQ3C}]);
drawPanel("c",Object.assign({},colC,rowTop),[
 {t:cQ1T,y:cQ1Y,bt:cQ1BandT,lo:cQ1Lo,hi:cQ1Hi,c:cQ1C},
 {t:cQ2T,y:cQ2Y,bt:cQ2BandT,lo:cQ2Lo,hi:cQ2Hi,c:cQ2C},
 {t:cQ3T,y:cQ3Y,bt:cQ3BandT,lo:cQ3Lo,hi:cQ3Hi,c:cQ3C}]);
drawPanel("d",Object.assign({},colA,rowBottom),[
 {t:dQ1T,y:dQ1Y,bt:dQ1BandT,lo:dQ1Lo,hi:dQ1Hi,c:dQ1C},
 {t:dQ2T,y:dQ2Y,bt:dQ2BandT,lo:dQ2Lo,hi:dQ2Hi,c:dQ2C},
 {t:dQ3T,y:dQ3Y,bt:dQ3BandT,lo:dQ3Lo,hi:dQ3Hi,c:dQ3C}]);
drawPanel("e",Object.assign({},colB,rowBottom),[
 {t:eQ1T,y:eQ1Y,bt:eQ1BandT,lo:eQ1Lo,hi:eQ1Hi,c:eQ1C},
 {t:eQ2T,y:eQ2Y,bt:eQ2BandT,lo:eQ2Lo,hi:eQ2Hi,c:eQ2C},
 {t:eQ3T,y:eQ3Y,bt:eQ3BandT,lo:eQ3Lo,hi:eQ3Hi,c:eQ3C}]);
drawPanel("f",Object.assign({},colC,rowBottom),[
 {t:fQ1T,y:fQ1Y,bt:fQ1BandT,lo:fQ1Lo,hi:fQ1Hi,c:fQ1C},
 {t:fQ2T,y:fQ2Y,bt:fQ2BandT,lo:fQ2Lo,hi:fQ2Hi,c:fQ2C},
 {t:fQ3T,y:fQ3Y,bt:fQ3BandT,lo:fQ3Lo,hi:fQ3Hi,c:fQ3C}]);
</script>
</body>
</html>
